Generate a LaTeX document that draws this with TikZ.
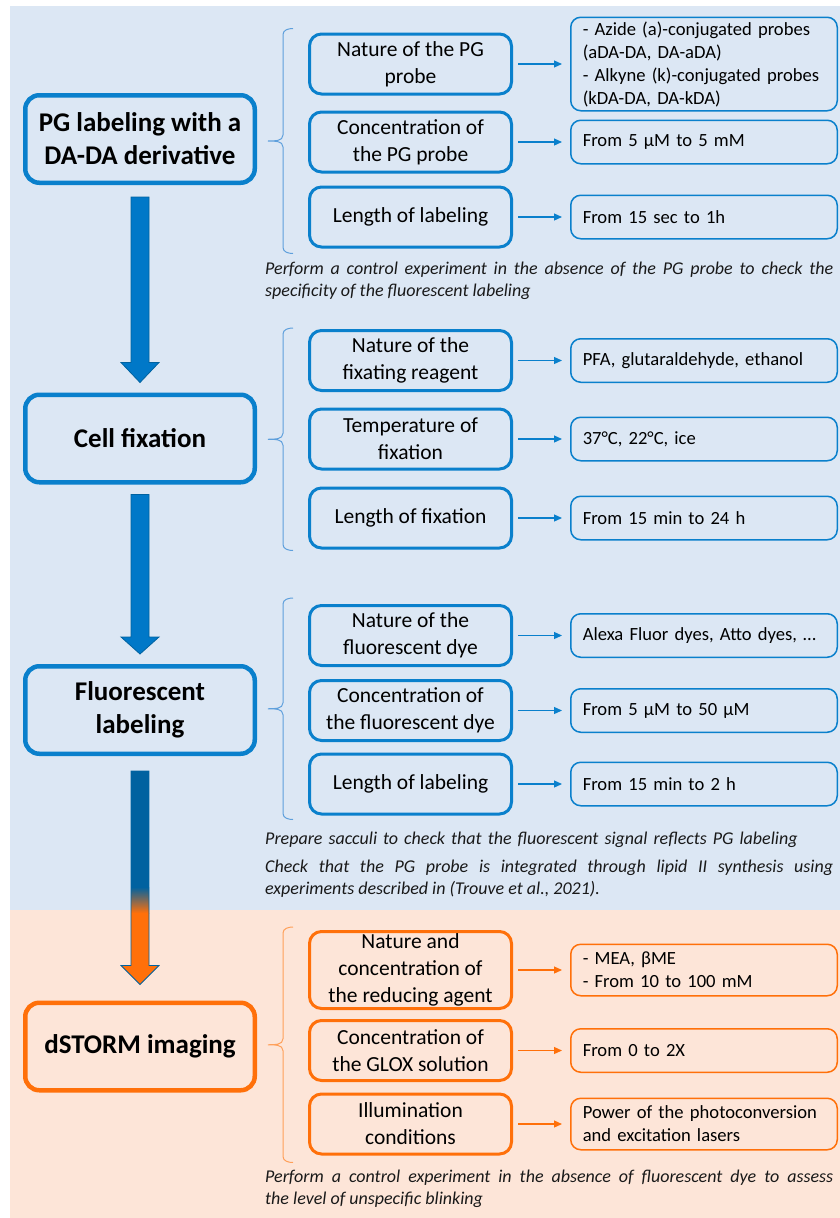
\documentclass[tikz,border=0pt]{standalone}
\usepackage{fontspec}
\setmainfont{Carlito}
\usetikzlibrary{arrows.meta,calc}

\definecolor{bgblue}{RGB}{220,231,244}
\definecolor{bgorange}{RGB}{253,229,216}
\definecolor{stepblue}{RGB}{10,128,204}
\definecolor{arrblue}{RGB}{0,120,200}
\definecolor{arrdark}{RGB}{0,98,160}
\definecolor{steporange}{RGB}{255,112,10}
\definecolor{bracketblue}{RGB}{95,160,220}
\definecolor{bracketorange}{RGB}{255,160,90}

% left brace with a tick in the middle: style, top point, bottom point
\newcommand{\sidebrace}[3]{%
	\draw[#1] let \p1=#2, \p2=#3, \p3=($(\p1)!.5!(\p2)$) in
		(\x1+10pt,\y1) to[out=180,in=90] (\x1,\y1-6pt) -- (\x3,\y3+6pt) to[out=-90,in=0] (\x3-15pt,\y3)
		to[out=0,in=90] (\x3,\y3-6pt) -- (\x2,\y2+6pt) to[out=-90,in=180] (\x2+10pt,\y2);}

\begin{document}
\begin{tikzpicture}[x=1pt, y=-1pt,
	stage/.style={draw=stepblue, line width=4.5pt, rounded corners=14pt, minimum width=229.5pt, minimum height=87.5pt, align=center, font=\fontsize{27}{33}\selectfont\bfseries},
	param/.style={draw=stepblue, line width=3pt, rounded corners=12pt, minimum width=202pt, minimum height=60pt, inner sep=2pt, align=center, font=\fontsize{21.5}{27}\selectfont},
	value/.style={draw=stepblue, line width=1.5pt, rounded corners=10pt, text width=242.5pt, inner xsep=12pt, inner ysep=2pt, minimum height=43.5pt, align=left, font=\fontsize{18.6}{23}\selectfont},
	note/.style={anchor=north west, inner sep=0pt, text width=568pt, align=justify, text=black!90, font=\fontsize{18}{22}\selectfont\itshape},
	bracket/.style={draw=bracketblue, line width=1pt},
	bigarrow/.style={fill=arrblue, draw=arrdark, line width=0.8pt},
	imgpart/.style={draw=steporange}]

\useasboundingbox (0,0) rectangle (840,1218);
\fill[bgblue] (10,6) rectangle (840,910);
\fill[bgorange] (10,910) rectangle (840,1218);

% main steps
\node[stage] (pg) at (140,139) {PG labeling with a\\DA-DA derivative};
\node[stage] (fix) at (140,438.5) {Cell fixation};
\node[stage] (fluo) at (140,710) {Fluorescent\\labeling};
\node[stage, imgpart] (storm) at (140,1046.5) {dSTORM imaging};

% PG labeling
\node[param] (pgprobe) at (410.5,64) {Nature of the PG\\probe};
\node[param] (pgconc) at (410.5,142) {Concentration of\\the PG probe};
\node[param] (pglength) at (410.5,217) {Length of labeling};
\node[value, minimum height=93.5pt] (pgprobev) at (704,64) {- Azide (a)-conjugated probes\\(aDA-DA, DA-aDA)\\- Alkyne (k)-conjugated probes\\(kDA-DA, DA-kDA)};
\node[value] (pgconcv) at (704,142) {From 5 µM to 5 mM};
\node[value] (pglengthv) at (704,217) {From 15 sec to 1h};
\node[note] (pgnote) at (265,262) {Perform a control experiment in the absence of the PG probe to check the\linebreak specificity of the fluorescent labeling};

% fixation
\node[param] (fixreag) at (410.5,360.5) {Nature of the\\fixating reagent};
\node[param] (fixtemp) at (410.5,439) {Temperature of\\fixation};
\node[param] (fixlength) at (410.5,518) {Length of fixation};
\node[value] (fixreagv) at (704,360.5) {PFA, glutaraldehyde, ethanol};
\node[value] (fixtempv) at (704,439) {37°C, 22°C, ice};
\node[value] (fixlengthv) at (704,518) {From 15 min to 24 h};

% fluorescent labeling
\node[param] (dyenat) at (410.5,635.5) {Nature of the\\fluorescent dye};
\node[param] (dyeconc) at (410.5,710.5) {Concentration of\\the fluorescent dye};
\node[param] (dyelength) at (410.5,784) {Length of labeling};
\node[value] (dyenatv) at (704,635.5) {Alexa Fluor dyes, Atto dyes, …};
\node[value] (dyeconcv) at (704,710.5) {From 5 µM to 50 µM};
\node[value] (dyelengthv) at (704,784) {From 15 min to 2 h};
\node[note, align=left] (sacnote) at (265,832) {Prepare sacculi to check that the fluorescent signal reflects PG labeling};
\node[note] (lipidnote) at (265,860) {Check that the PG probe is integrated through lipid II synthesis using\linebreak experiments described in (Trouve et al., 2021).};

% dSTORM
\node[param, imgpart, minimum height=77pt] (redagent) at (410.5,970) {Nature and\\concentration of\\the reducing agent};
\node[param, imgpart] (glox) at (410.5,1050.5) {Concentration of\\the GLOX solution};
\node[param, imgpart] (illum) at (410.5,1124) {Illumination\\conditions};
\node[value, imgpart, minimum height=51.5pt] (redagentv) at (704,970) {- MEA, βME\\- From 10 to 100 mM};
\node[value, imgpart] (gloxv) at (704,1050.5) {From 0 to 2X};
\node[value, imgpart, minimum height=51.5pt] (illumv) at (704,1124) {Power of the photoconversion\\and excitation lasers};
\node[note] (blinknote) at (265,1170) {Perform a control experiment in the absence of fluorescent dye to assess\linebreak the level of unspecific blinking};

% brackets
\sidebrace{bracket}{($(pgprobe.north west)+(-25,-4)$)}{($(pglength.south west)+(-25,5)$)}
\sidebrace{bracket}{($(fixreag.north west)+(-25,-1)$)}{($(fixlength.south west)+(-25,1)$)}
\sidebrace{bracket}{($(dyenat.north west)+(-25,-6)$)}{($(dyelength.south west)+(-25,4)$)}
\sidebrace{bracket, draw=bracketorange}{($(redagent.north west)+(-25,-3)$)}{($(illum.south west)+(-25,7)$)}

% big arrows between steps
\path[bigarrow] ($(pg.south)+(-9,12)$) -- ($(fix.north)+(-9,-30)$) -- ($(fix.north)+(-19,-30)$) -- ($(fix.north)+(0,-10)$) -- ($(fix.north)+(19,-30)$) -- ($(fix.north)+(9,-30)$) -- ($(pg.south)+(9,12)$) -- cycle;
\path[bigarrow] ($(fix.south)+(-9,10)$) -- ($(fluo.north)+(-9,-27)$) -- ($(fluo.north)+(-19,-27)$) -- ($(fluo.north)+(0,-10)$) -- ($(fluo.north)+(19,-27)$) -- ($(fluo.north)+(9,-27)$) -- ($(fix.south)+(9,10)$) -- cycle;
\fill[arrdark] ($(fluo.south)+(-9,15)$) rectangle ($(fluo.south)+(9,131)$);
\shade[top color=arrdark, bottom color=steporange] ($(fluo.south)+(-9,131)$) rectangle ($(fluo.south)+(9,157)$);
\fill[steporange] ($(fluo.south)+(-9,157)$) -- ($(storm.north)+(-9,-35)$) -- ($(storm.north)+(-19,-35)$) -- ($(storm.north)+(0,-16)$) -- ($(storm.north)+(19,-35)$) -- ($(storm.north)+(9,-35)$) -- ($(fluo.south)+(9,157)$) -- cycle;
\draw[arrdark, line width=0.8pt] ($(fluo.south)+(-9,15)$) -- ($(storm.north)+(-9,-35)$) -- ($(storm.north)+(-19,-35)$) -- ($(storm.north)+(0,-16)$) -- ($(storm.north)+(19,-35)$) -- ($(storm.north)+(9,-35)$) -- ($(fluo.south)+(9,15)$) -- cycle;

\begin{scope}[every path/.style={draw, stepblue, line width=1.2pt, shorten <=5pt, shorten >=8pt, -{Triangle[length=8pt,width=7pt]}}]
	\draw (pgprobe.east) -- (pgprobev.west);
	\draw (pgconc.east) -- (pgconcv.west);
	\draw (pglength.east) -- (pglengthv.west);
	\draw (fixreag.east) -- (fixreagv.west);
	\draw (fixtemp.east) -- (fixtempv.west);
	\draw (fixlength.east) -- (fixlengthv.west);
	\draw (dyenat.east) -- (dyenatv.west);
	\draw (dyeconc.east) -- (dyeconcv.west);
	\draw (dyelength.east) -- (dyelengthv.west);
	\draw[steporange] (redagent.east) -- (redagentv.west);
	\draw[steporange] (glox.east) -- (gloxv.west);
	\draw[steporange] (illum.east) -- (illumv.west);
\end{scope}

\end{tikzpicture}
\end{document}
